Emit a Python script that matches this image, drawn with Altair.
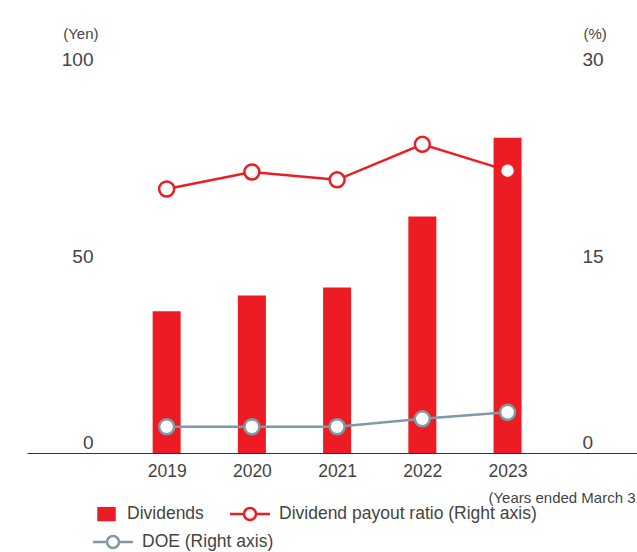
import altair as alt
import pandas as pd

# ---- data ----
years = [2019, 2020, 2021, 2022, 2023]
dividends = [36, 40, 42, 60, 80]               # Yen (left axis)
payout_ratio = [20.1, 21.4, 20.8, 23.5, 21.5]  # % (right axis)
doe = [2.0, 2.0, 2.0, 2.6, 3.1]                # % (right axis)

series_names = ["Dividends", "Dividend payout ratio (Right axis)", "DOE (Right axis)"]
series_colors = ["#ED1C24", "#ED1C24", "#7F9AA4"]
legend_fills = ["#ED1C24", "#FFFFFF", "#FFFFFF"]

left_ticks = [0, 50, 100]
right_ticks = [0, 15, 30]
x_domain = [2017.42, 2024.46]

RED = series_colors[0]
TEXT = "#444444"
FONT = "Liberation Sans"

bar_df = pd.DataFrame({"year": years, "value": dividends})
line_df = pd.DataFrame({
    "year": years + years,
    "value": payout_ratio + doe,
    "series": [series_names[1]] * len(years) + [series_names[2]] * len(years),
})
legend_df_a = pd.DataFrame({"series": series_names[:2]})
legend_df_b = pd.DataFrame({"series": series_names[2:]})

# legend symbol paths (unit = half of sqrt(symbolSize) = 7.5 px)
LINE_SYMBOL = "M-2.67,0L-0.8,0M0.8,0L2.67,0M-0.8,0A0.8,0.8,0,1,1,0.8,0A0.8,0.8,0,1,1,-0.8,0Z"
SQUARE_SYMBOL = "M0.07,-0.77L2.2,-0.77L2.2,0.77L0.07,0.77Z"
legend_shapes = [SQUARE_SYMBOL, LINE_SYMBOL, LINE_SYMBOL]


def make_legend(x, y):
    return alt.Legend(
        title=None, orient="none", legendX=x, legendY=y,
        direction="horizontal", columnPadding=20, padding=0,
        symbolSize=225, symbolStrokeWidth=2.5, symbolOffset=12.25, symbolOpacity=1,
        labelOffset=20, labelFontSize=17.5, labelColor=TEXT, labelFont=FONT, labelLimit=500,
    )


x_enc = alt.X(
    "year:Q",
    scale=alt.Scale(domain=x_domain, nice=False, zero=False),
    axis=alt.Axis(
        values=years, format="d", labelFlush=False,
        title="(Years ended March 31)", titleX=461, titleY=44, titleAlign="left",
        titleBaseline="middle", titleFontSize=15, titleFontWeight="normal", titleColor=TEXT,
        titleFont=FONT,
        labelAngle=0, labelFontSize=17.5, labelColor=TEXT, labelFont=FONT, labelPadding=9,
        ticks=False, domain=True, domainColor="#333333", domainWidth=1, grid=False,
    ),
)

zero_shift = {"condition": {"test": "datum.value === 0", "value": -11}, "value": 0}

left_axis = alt.Axis(
    orient="left", values=left_ticks, title="(Yen)", titleAngle=0, titleX=5, titleY=-26,
    titleAlign="right", titleBaseline="middle", titleFontSize=15, titleFontWeight="normal",
    titleColor=TEXT, titleFont=FONT,
    labelFontSize=19, labelColor=TEXT, labelFont=FONT, labelPadding=0, labelOffset=zero_shift,
    labelBaseline="middle", ticks=False, domain=False, grid=False, offset=-66,
)

right_axis = alt.Axis(
    orient="right", values=right_ticks, title="(%)", titleAngle=0, titleX=1, titleY=-26,
    titleAlign="left", titleBaseline="middle", titleFontSize=15, titleFontWeight="normal",
    titleColor=TEXT, titleFont=FONT,
    labelFontSize=19, labelColor=TEXT, labelFont=FONT, labelPadding=0, labelOffset=zero_shift,
    labelBaseline="middle", ticks=False, domain=False, grid=False, offset=-55,
)

bars = alt.Chart(bar_df).mark_bar(color=RED, size=28).encode(
    x=x_enc,
    y=alt.Y("value:Q", scale=alt.Scale(domain=[0, 100], nice=False), axis=left_axis),
)

y_right = alt.Y("value:Q", scale=alt.Scale(domain=[0, 30], nice=False), axis=right_axis)
line_color = alt.Color(
    "series:N", scale=alt.Scale(domain=series_names[1:], range=series_colors[1:]), legend=None
)

lines = alt.Chart(line_df).mark_line(strokeWidth=2.5).encode(
    x=x_enc, y=y_right, color=line_color
)
points = alt.Chart(line_df).mark_point(
    filled=False, fill="white", size=225, strokeWidth=2.5, opacity=1
).encode(x=x_enc, y=y_right, color=line_color)


def legend_only_layer(df, names, shapes, fills, strokes, lx, ly):
    lg = make_legend(lx, ly)
    return alt.Chart(df).transform_filter("false").mark_point(
        opacity=1, strokeWidth=2.5
    ).encode(
        shape=alt.Shape("series:N", scale=alt.Scale(domain=names, range=shapes), legend=lg),
        fill=alt.Fill("series:N", scale=alt.Scale(domain=names, range=fills), legend=lg),
        stroke=alt.Stroke("series:N", scale=alt.Scale(domain=names, range=strokes), legend=lg),
    )


legend_a = legend_only_layer(
    legend_df_a, series_names[:2], legend_shapes[:2], legend_fills[:2], series_colors[:2], 49.75, 446
)
legend_b = legend_only_layer(
    legend_df_b, series_names[2:], legend_shapes[2:], legend_fills[2:], series_colors[2:], 64.75, 474
)

legends = alt.layer(legend_a, legend_b).resolve_scale(
    shape="independent", fill="independent", stroke="independent"
).resolve_legend(shape="independent", fill="independent", stroke="independent")

right_layer = alt.layer(lines, points)

chart = alt.layer(bars, right_layer, legends).resolve_scale(y="independent").properties(
    width=610, height=394,
    background="white",
    autosize=alt.AutoSizeParams(type="none"),
    padding={"left": 27, "top": 59, "right": 0, "bottom": 99},
).configure_view(stroke=None)

chart.save("out.html", embed_options={"renderer": "svg", "actions": False})
